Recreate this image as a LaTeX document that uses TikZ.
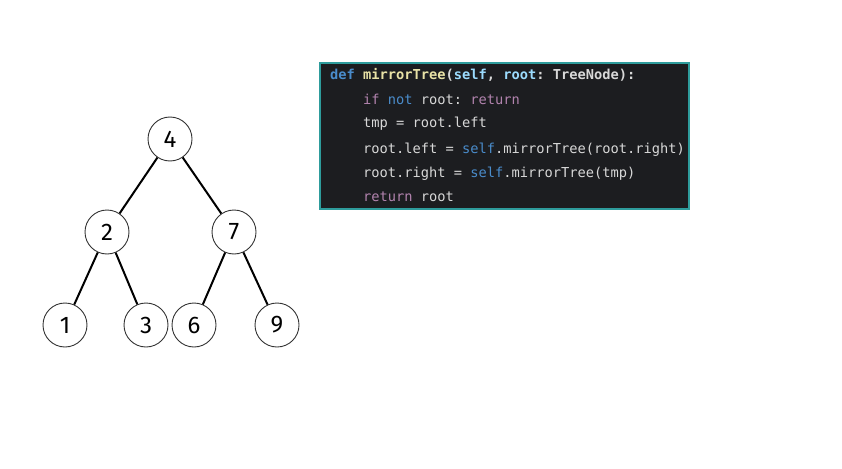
\documentclass[tikz,border=0pt]{standalone}
\usepackage{fontspec}
\setmainfont{Fira Sans}
\setmonofont{DejaVu Sans Mono}
\usepackage{xcolor}
\usetikzlibrary{positioning}

\definecolor{codebg}{HTML}{1C1D20}
\definecolor{codeframe}{HTML}{2E9C9C}
\definecolor{codetext}{HTML}{D8D8D8}
\definecolor{kwblue}{HTML}{4A8CCB}
\definecolor{kwpurple}{HTML}{B283AE}
\definecolor{fnyellow}{HTML}{E8E2A6}
\definecolor{argblue}{HTML}{9CDCFE}

\tikzset{
  treenode/.style={circle, draw=black!80, line width=0.9pt, minimum size=44pt,
    inner sep=0pt, font=\fontsize{24}{24}\selectfont},
  treeedge/.style={line width=2pt, black},
  codeline/.style={anchor=base west, inner sep=0pt, text=codetext,
    font=\ttfamily\fontsize{13.7}{14}\selectfont}
}

\begin{document}
\begin{tikzpicture}[x=1pt, y=-1pt]
  \useasboundingbox (0,0) rectangle (842,468);

  % Tree
  \node[treenode] (n4) at (170,139) {4};
  \node[treenode] (n2) at (107,232) {2};
  \node[treenode] (n7) at (234,232) {7};
  \node[treenode] (n1) at (65,325) {1};
  \node[treenode] (n3) at (146,325) {3};
  \node[treenode] (n6) at (194,325) {6};
  \node[treenode] (n9) at (277,325) {9};

  \draw[treeedge] (n4) -- (n2);
  \draw[treeedge] (n4) -- (n7);
  \draw[treeedge] (n2) -- (n1);
  \draw[treeedge] (n2) -- (n3);
  \draw[treeedge] (n7) -- (n6);
  \draw[treeedge] (n7) -- (n9);

  % Code box
  \draw[fill=codebg, draw=codeframe, line width=1.5pt] (320,63) rectangle (689,209);
  \node[codeline, font=\ttfamily\bfseries\fontsize{13.7}{14}\selectfont] (line1) at (330,80)
    {\textcolor{kwblue}{def} \textcolor{fnyellow}{mirrorTree}(\textcolor{argblue}{self}, \textcolor{argblue}{root}: TreeNode):};
  \node[codeline] (line2) at (363,104)
    {\textcolor{kwpurple}{if} \textcolor{kwblue}{not} root: \textcolor{kwpurple}{return}};
  \node[codeline] (line3) at (363,128) {tmp = root.left};
  \node[codeline] (line4) at (363,153)
    {root.left = \textcolor{kwblue}{self}.mirrorTree(root.right)};
  \node[codeline] (line5) at (363,177)
    {root.right = \textcolor{kwblue}{self}.mirrorTree(tmp)};
  \node[codeline] (line6) at (363,201)
    {\textcolor{kwpurple}{return} root};
\end{tikzpicture}
\end{document}
